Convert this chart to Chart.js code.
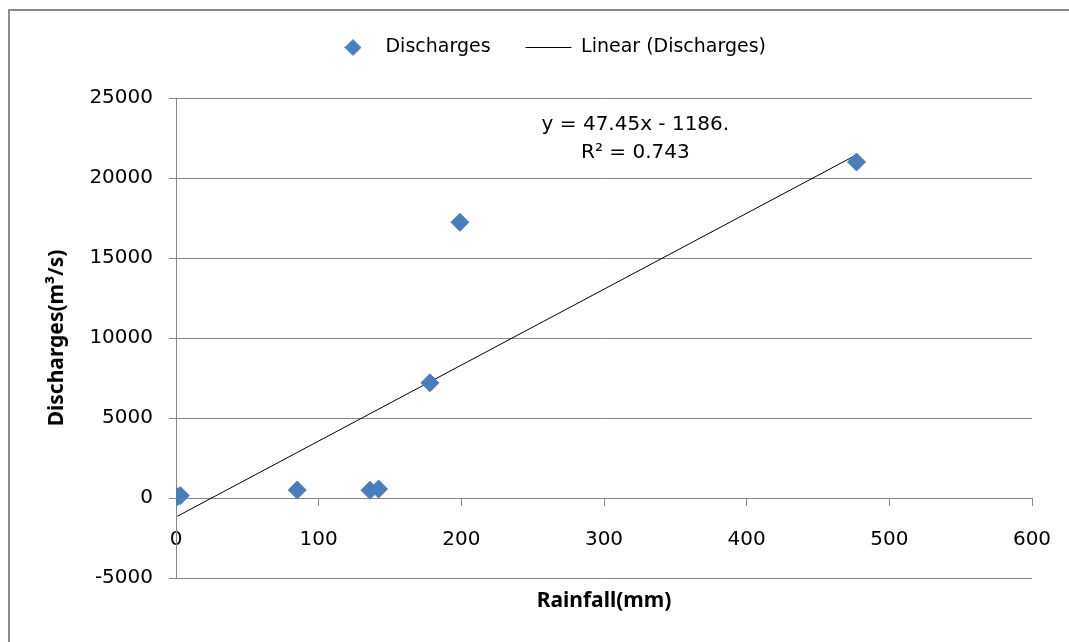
<!DOCTYPE html>
<html>
<head>
<meta charset="utf-8">
<script src="https://cdn.jsdelivr.net/npm/chart.js@4.4.0/dist/chart.umd.min.js"></script>
<style>
    html, body { margin: 0; padding: 0; background: #fff; overflow: hidden; width: 1069px; height: 642px; }
    #marco { position: absolute; left: 8px; top: 9px; width: 1059px; height: 631px;
             border-left: 2px solid #8c8c8c; border-top: 2px solid #8c8c8c; }
    #caja { position: absolute; left: 0; top: 0; width: 1069px; height: 642px; }
</style>
</head>
<body>
<div id="marco"></div>
<div id="caja"><canvas id="graficoLluvia"></canvas></div>
<script>
// datos
const rainfall = [1, 3, 85, 136, 142, 178, 199, 477];
const discharges = [80, 150, 500, 480, 560, 7200, 17230, 21000];
const ticksX = [0, 100, 200, 300, 400, 500, 600];
const ticksY = [-5000, 0, 5000, 10000, 15000, 20000, 25000];
const slope = 47.45;
const intercept = -1186;
const ecuacion = ['y = 47.45x - 1186.', 'R\u00B2 = 0.743'];

const fuente = '"DejaVu Sans", sans-serif';
const fuenteTitulo = '"Noto Sans", "DejaVu Sans", sans-serif';
const gris = '#868686';
const azul = '#4a7ebb';

const puntos = rainfall.map((r, i) => ({ x: r, y: discharges[i] }));
const minX = Math.min(...rainfall);
const maxX = Math.max(...rainfall);
const tendencia = [minX, maxX].map(x => ({ x: x, y: slope * x + intercept }));

// posicion de la etiqueta de la ecuacion (en valores de los ejes)
const posEcuacion = { x: 322, y: [23300, 21550] };

const etiquetaEcuacion = {
    id: 'etiquetaEcuacion',
    afterDatasetsDraw(chart) {
        const { ctx, scales: { x, y } } = chart;
        ctx.save();
        ctx.font = '20px ' + fuente;
        ctx.fillStyle = '#000';
        ctx.textAlign = 'center';
        ctx.textBaseline = 'middle';
        ecuacion.forEach((t, i) => {
            ctx.fillText(t, x.getPixelForValue(posEcuacion.x), y.getPixelForValue(posEcuacion.y[i]));
        });
        ctx.restore();
    }
};

// rombo de la leyenda como imagen, asi no se estira con pointStyleWidth
const creaRombo = (lado, color) => {
    const c = document.createElement('canvas');
    c.width = lado;
    c.height = lado;
    const g = c.getContext('2d');
    const m = lado / 2;
    g.fillStyle = color;
    g.beginPath();
    g.moveTo(m, 0);
    g.lineTo(lado, m);
    g.lineTo(m, lado);
    g.lineTo(0, m);
    g.closePath();
    g.fill();
    return c;
};
const romboLeyenda = creaRombo(17, azul);

Chart.defaults.font.family = fuente;
Chart.defaults.color = '#000';

const generaEtiquetas = chart => {
    const items = Chart.defaults.plugins.legend.labels.generateLabels(chart);
    items.forEach(it => { if (it.pointStyle === 'rectRot') it.pointStyle = romboLeyenda; });
    return items;
};

const ctx = document.getElementById('graficoLluvia');

const dataGrafico = {
    type: 'scatter',
    data: {
        datasets: [{
                label: 'Discharges',
                data: puntos,
                xAxisID: 'x',
                yAxisID: 'y',
                backgroundColor: azul,
                borderColor: azul,
                pointStyle: 'rectRot',
                pointRadius: 9,
                pointHoverRadius: 9,
                borderWidth: 1
            },
            {
                label: 'Linear (Discharges)',
                data: tendencia,
                xAxisID: 'x',
                yAxisID: 'y',
                showLine: true,
                borderColor: '#000',
                backgroundColor: '#000',
                borderWidth: 1,
                pointStyle: 'line',
                pointRadius: 0,
                pointHoverRadius: 0
            }
        ]
    },
    options: {
        responsive: true,
        maintainAspectRatio: false,
        animation: false,
        layout: {
            padding: { left: 64, right: 37, top: 3, bottom: 0 }
        },
        plugins: {
            legend: {
                position: 'top',
                labels: {
                    usePointStyle: true,
                    pointStyleWidth: 46,
                    boxHeight: 11,
                    padding: 35,
                    color: '#000',
                    font: { size: 19 },
                    generateLabels: generaEtiquetas
                }
            },
            tooltip: { enabled: false }
        },
        scales: {
            x: {
                type: 'linear',
                position: { y: 0 },
                min: 0,
                max: 600,
                afterBuildTicks: s => { s.ticks = ticksX.map(v => ({ value: v })); },
                afterFit: s => { s.paddingLeft = 0; s.paddingRight = 0; },
                grid: { drawOnChartArea: false, drawTicks: true, tickLength: 7, color: gris },
                border: { color: gris },
                ticks: { padding: 23, color: '#000', font: { size: 20 }, callback: v => String(v) }
            },
            xArriba: {
                type: 'linear',
                position: 'top',
                min: 0,
                max: 600,
                afterFit: s => { s.height = 31; },
                grid: { display: false },
                border: { display: false },
                ticks: { display: false }
            },
            xTitulo: {
                type: 'linear',
                position: 'bottom',
                min: 0,
                max: 600,
                afterFit: s => { s.height = 64; },
                grid: { display: false },
                border: { display: false },
                ticks: { display: false },
                title: {
                    display: true,
                    text: 'Rainfall(mm)',
                    color: '#000',
                    font: { family: fuenteTitulo, size: 21, weight: 'bold' },
                    padding: { top: 0, bottom: 28 }
                }
            },
            y: {
                type: 'linear',
                position: 'left',
                min: -5000,
                max: 25000,
                afterBuildTicks: s => { s.ticks = ticksY.map(v => ({ value: v })); },
                afterFit: s => { s.width = 112; },
                grid: { color: gris, drawTicks: true, tickLength: 7 },
                border: { color: gris },
                ticks: { padding: 16, color: '#000', font: { size: 20 }, callback: v => String(v) },
                title: {
                    display: true,
                    text: 'Discharges(m\u00B3/s)',
                    color: '#000',
                    font: { family: fuenteTitulo, size: 21, weight: 'bold' },
                    padding: { top: -20, bottom: 0 }
                }
            }
        }
    },
    plugins: [etiquetaEcuacion]
};

window.chartLluvia = new Chart(ctx, dataGrafico);
</script>
</body>
</html>
